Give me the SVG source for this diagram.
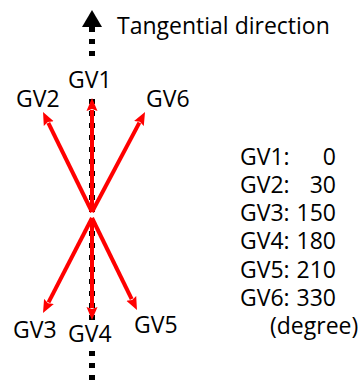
<svg xmlns="http://www.w3.org/2000/svg" width="363" height="381" viewBox="0 0 363 381">
<style>
text{font-family:"Open Sans","Liberation Sans",sans-serif;font-size:23px;fill:#000}
.axis{stroke:#000;stroke-width:6;stroke-dasharray:5 7;fill:none}
.gv{stroke:#FF0000;stroke-width:4;fill:none;marker-end:url(#ah)}
</style>
<defs>
<marker id="ah" markerUnits="userSpaceOnUse" markerWidth="16" markerHeight="14" viewBox="0 -7 16 14" refX="1" refY="0" orient="auto">
<path d="M0,-5.5 L13,0 L0,5.5 L2,0 z" fill="#FF0000"/>
</marker>
</defs>
<g id="axis">
<polygon points="92,10 82,27 102,27" fill="#000"/>
<line class="axis" x1="92" y1="27" x2="92" y2="63"/>
<line class="axis" x1="92" y1="99" x2="92" y2="327"/>
<line class="axis" x1="92" y1="351" x2="92" y2="381"/>
</g>
<g id="connectors">
<line class="gv" x1="92" y1="212" x2="92" y2="110"/>
<line class="gv" x1="92" y1="212" x2="48.3" y2="122.8"/>
<line class="gv" x1="92" y1="212" x2="139.4" y2="122.6"/>
<line class="gv" x1="92" y1="218" x2="48.5" y2="302.3"/>
<line class="gv" x1="92" y1="218" x2="92" y2="308"/>
<line class="gv" x1="92" y1="218" x2="131.7" y2="299.2"/>
</g>
<g id="title"><text x="117" y="34">Tangential direction</text></g>
<g id="GV1"><text x="68" y="88">GV1</text></g>
<g id="GV2"><text x="16" y="107">GV2</text></g>
<g id="GV6"><text x="146" y="107">GV6</text></g>
<g id="GV3"><text x="13" y="338">GV3</text></g>
<g id="GV4"><text x="68" y="342">GV4</text></g>
<g id="GV5"><text x="134" y="333">GV5</text></g>
<g id="legend">
<text><tspan x="240" y="165">GV1:</tspan><tspan x="336" y="165" text-anchor="end">0</tspan><tspan x="240" y="193">GV2:</tspan><tspan x="336" y="193" text-anchor="end">30</tspan><tspan x="240" y="221">GV3:</tspan><tspan x="336" y="221" text-anchor="end">150</tspan><tspan x="240" y="249">GV4:</tspan><tspan x="336" y="249" text-anchor="end">180</tspan><tspan x="240" y="278">GV5:</tspan><tspan x="336" y="278" text-anchor="end">210</tspan><tspan x="240" y="306">GV6:</tspan><tspan x="336" y="306" text-anchor="end">330</tspan><tspan x="270" y="334">(degree)</tspan></text>
</g>
</svg>
